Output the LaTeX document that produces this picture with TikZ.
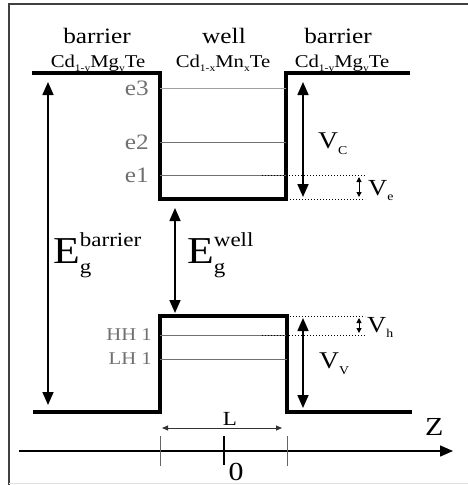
\documentclass[tikz,border=0pt]{standalone}
\usepackage{fontspec}
\setmainfont{Liberation Serif}[FakeStretch=1.15]
\usetikzlibrary{arrows.meta}
\definecolor{LevelGray}{RGB}{112,112,112}
\definecolor{LightLevel}{RGB}{160,160,160}
\newcommand\lowidx[2][10]{\raisebox{-0.25em}{\fontsize{#1}{#1}\selectfont #2}}
\newcommand\gapE[1]{{\fontsize{38}{38}\selectfont E}\rlap{\raisebox{17pt}{\fontsize{20}{20}\selectfont #1}}\raisebox{-10pt}{\fontsize{20}{20}\selectfont g}}

\begin{document}
\begin{tikzpicture}[x=1pt,y=-1pt,>={Triangle[length=13pt,width=11pt]}]
    \tikzset{band/.style={line width=4pt,line join=miter},
      level/.style={line width=1pt},
      gap/.style={<->,line width=1.6pt},
      tiny/.style={{Triangle[length=5pt,width=5pt]}-{Triangle[length=5pt,width=5pt]},line width=1pt},
      guide/.style={line width=1pt,dash pattern=on 1pt off 2pt},
      tick/.style={black!60,line width=1pt},
      lbl/.style={inner sep=0pt,anchor=base,font=\fontsize{22}{24}\selectfont},
      vlbl/.style={inner sep=0pt,anchor=base west,font=\fontsize{23}{24}\selectfont},
      lvl/.style={inner sep=0pt,anchor=east,LevelGray,font=\fontsize{22}{24}\selectfont},
      hole/.style={inner sep=0pt,anchor=east,LevelGray,font=\fontsize{18}{20}\selectfont}}
    \useasboundingbox (0,0) rectangle (468,485);
    \draw[black!75,line width=1.2pt] (468,4) -- (9,4) -- (9,485);
    \draw[black!12,line width=1pt] (9,483) -- (468,483);
    % conduction band
    \coordinate (cbL) at (32,73);
    \coordinate (cbWL) at (160,73);
    \coordinate (cbBL) at (160,199);
    \coordinate (cbBR) at (286,199);
    \coordinate (cbWR) at (286,73);
    \coordinate (cbR) at (410,73);
    \draw[band] (cbL) -- (cbWL) -- (cbBL) -- (cbBR) -- (cbWR) -- (cbR);
    % valence band
    \coordinate (vbL) at (33,412);
    \coordinate (vbWL) at (160,412);
    \coordinate (vbTL) at (160,316);
    \coordinate (vbTR) at (287,316);
    \coordinate (vbWR) at (287,412);
    \coordinate (vbR) at (412,412);
    \draw[band] (vbL) -- (vbWL) -- (vbTL) -- (vbTR) -- (vbWR) -- (vbR);
    % layer labels
    \node[lbl] (barL) at (97,43) {barrier};
    \node[lbl] (well) at (224,43) {well};
    \node[lbl] (barR) at (338,43) {barrier};
    \node[lbl,font=\fontsize{18}{20}\selectfont] (matL) at (98,67) {Cd\lowidx{1-y}Mg\lowidx{y}Te};
    \node[lbl,font=\fontsize{18}{20}\selectfont] (matW) at (223,67) {Cd\lowidx{1-x}Mn\lowidx{x}Te};
    \node[lbl,font=\fontsize{18}{20}\selectfont] (matR) at (342,67) {Cd\lowidx{1-y}Mg\lowidx{y}Te};
    % confined levels
    \node[lvl] (e3) at (149,88) {e3};
    \node[lvl] (e2) at (149,142) {e2};
    \node[lvl] (e1) at (149,175) {e1};
    \node[hole] (hh) at (152,335) {HH 1};
    \node[hole] (lh) at (152,359) {LH 1};
    \draw[level,LightLevel] (e3.east -| cbBL) -- (e3.east -| cbBR);
    \draw[level,LevelGray] (e2.east -| cbBL) -- (e2.east -| cbBR);
    \draw[level,LevelGray] (e1.east -| cbBL) -- (e1.east -| cbBR);
    \draw[level,LevelGray] (hh.east -| vbTL) -- (hh.east -| vbTR);
    \draw[level,LevelGray] (lh.east -| vbTL) -- (lh.east -| vbTR);
    % offsets
    \coordinate (ve1) at (262,175);
    \coordinate (ve2) at (365,175);
    \coordinate (ve3) at (290,199);
    \coordinate (ve4) at (365,199);
    \coordinate (vh1) at (290,316);
    \coordinate (vh2) at (365,316);
    \coordinate (vh3) at (262,335);
    \coordinate (vh4) at (365,335);
    \draw[guide] (ve1) -- (ve2);
    \draw[guide] (ve3) -- (ve4);
    \draw[guide] (vh1) -- (vh2);
    \draw[guide] (vh3) -- (vh4);
    \coordinate (veT) at (359,177);
    \coordinate (veB) at (359,197);
    \coordinate (vhT) at (359,318);
    \coordinate (vhB) at (359,333);
    \draw[tiny] (veT) -- (veB);
    \draw[tiny] (vhT) -- (vhB);
    % gaps
    \coordinate (gbT) at (48,82);
    \coordinate (gbB) at (48,405);
    \coordinate (gwT) at (175,208);
    \coordinate (gwB) at (175,313);
    \coordinate (vcT) at (303,82);
    \coordinate (vcB) at (303,197);
    \coordinate (vvT) at (303,318);
    \coordinate (vvB) at (303,408);
    \draw[gap] (gbT) -- (gbB);
    \draw[gap] (gwT) -- (gwB);
    \draw[gap] (vcT) -- (vcB);
    \draw[gap] (vvT) -- (vvB);
    \node[vlbl] (egb) at (53,263) {\gapE{barrier}};
    \node[vlbl] (egw) at (187,263) {\gapE{well}};
    \node[vlbl,font=\fontsize{24}{24}\selectfont] (vc) at (318,148) {V\lowidx[12]{C}};
    \node[vlbl] (ve) at (368,195) {V\lowidx[12]{e}};
    \node[vlbl] (vh) at (367,332) {V\lowidx[12]{h}};
    \node[vlbl,font=\fontsize{24}{24}\selectfont] (vv) at (319,368) {V\lowidx[12]{V}};
    % z axis
    \coordinate (lA) at (162,428);
    \coordinate (lB) at (282,428);
    \draw[{Triangle[length=6pt,width=5pt]}-{Triangle[length=6pt,width=5pt]},black!80,line width=1pt] (lA) -- (lB);
    \node[lbl,font=\fontsize{20}{20}\selectfont] (len) at (230,425) {L};
    \coordinate (zA) at (19,451);
    \coordinate (zB) at (453,451);
    \draw[->,line width=1.5pt] (zA) -- (zB);
    \node[vlbl,font=\fontsize{26}{26}\selectfont] (zlbl) at (425,435) {Z};
    \coordinate (t1a) at (160,436);
    \coordinate (t1b) at (160,466);
    \coordinate (t2a) at (287,436);
    \coordinate (t2b) at (287,466);
    \coordinate (t0a) at (224,436);
    \coordinate (t0b) at (224,465);
    \draw[tick] (t1a) -- (t1b);
    \draw[tick] (t2a) -- (t2b);
    \draw[line width=2pt] (t0a) -- (t0b);
    \node[lbl,font=\fontsize{26}{26}\selectfont] (orig) at (236,480) {0};
  \end{tikzpicture}
\end{document}
